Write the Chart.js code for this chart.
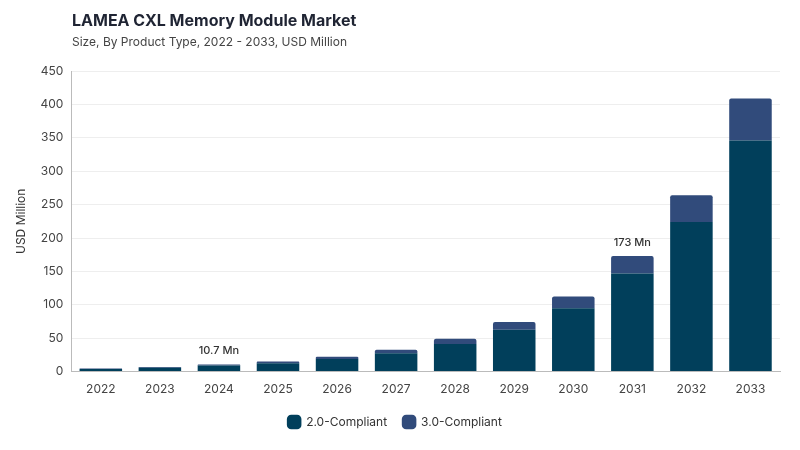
<!DOCTYPE html>
<html>
<head>
<meta charset="utf-8">
<script src="https://cdn.jsdelivr.net/npm/chart.js@4"></script>
<style>
  body { margin: 0; background: #fff; font-family: Inter, "Noto Sans", sans-serif; }
  #wrap { position: relative; width: 800px; height: 450px; }
  #title { position: absolute; left: 72px; top: 10px; font-size: 16px; font-weight: 700; color: #1f2433; }
  #subtitle { position: absolute; left: 72px; top: 34px; font-size: 12px; color: #444; }
  canvas { position: absolute; left: 0; top: 0; }
</style>
</head>
<body>
<div id="wrap">
  <canvas id="myChart" width="800" height="450"></canvas>
  <div id="title">LAMEA CXL Memory Module Market</div>
  <div id="subtitle">Size, By Product Type, 2022 - 2033, USD Million</div>
</div>
<script>
var years = ["2022", "2023", "2024", "2025", "2026", "2027", "2028", "2029", "2030", "2031", "2032", "2033"];
var compliant20 = [3.8, 5.9, 9.1, 12.6, 18.8, 27.6, 41.5, 62.5, 95, 147, 224, 346];
var compliant30 = [0.7, 1.1, 1.6, 2.4, 3.6, 5.2, 7.8, 11.7, 17.5, 26, 40, 63];
var totalLabels = ["", "", "10.7 Mn", "", "", "", "", "", "", "173 Mn", "", ""];

// writes the total above the chosen bars
var totalLabelPlugin = {
  id: 'totalLabels',
  afterDatasetsDraw: function(chart) {
    var ctx = chart.ctx;
    var meta = chart.getDatasetMeta(1);
    ctx.save();
    ctx.font = '500 11px Inter, "Noto Sans", sans-serif';
    ctx.fillStyle = '#333';
    ctx.textAlign = 'center';
    ctx.textBaseline = 'bottom';
    totalLabels.forEach(function(t, i) {
      if (!t) return;
      var bar = meta.data[i];
      ctx.fillText(t, bar.x, bar.y - 8);
    });
    ctx.restore();
  }
};

new Chart("myChart", {
  type: "bar",
  data: {
    labels: years,
    datasets: [{
      label: "2.0-Compliant",
      data: compliant20,
      backgroundColor: "#013f5b",
      borderRadius: 0,
      barPercentage: 0.72,
      categoryPercentage: 1
    },
    {
      label: "3.0-Compliant",
      data: compliant30,
      backgroundColor: "#314b7b",
      borderRadius: { topLeft: 2, topRight: 2 },
      borderSkipped: 'bottom',
      barPercentage: 0.72,
      categoryPercentage: 1
    }]
  },
  options: {
    responsive: false,
    animation: false,
    layout: { padding: { top: 71, right: 20, left: 10, bottom: 12 } },
    plugins: {
      legend: {
        position: 'bottom',
        labels: {
          usePointStyle: true,
          pointStyle: 'rectRounded',
          boxWidth: 14,
          boxHeight: 14,
          padding: 16,
          color: '#333',
          font: { family: 'Inter, "Noto Sans", sans-serif', size: 12 }
        }
      },
      tooltip: { enabled: false }
    },
    scales: {
      x: {
        stacked: true,
        grid: { display: false },
        border: { color: '#bbb' },
        ticks: { color: '#444', padding: 3, font: { family: 'Inter, "Noto Sans", sans-serif', size: 12 } }
      },
      y: {
        stacked: true,
        min: 0,
        max: 450,
        ticks: { stepSize: 50, color: '#444', padding: 8, font: { family: 'Inter, "Noto Sans", sans-serif', size: 12 } },
        grid: { color: '#eeeeee', drawTicks: false },
        border: { color: '#bbb' },
        title: {
          display: true,
          text: 'USD Million',
          color: '#333',
          font: { family: 'Inter, "Noto Sans", sans-serif', size: 12 }
        }
      }
    }
  },
  plugins: [totalLabelPlugin]
});
</script>
</body>
</html>
